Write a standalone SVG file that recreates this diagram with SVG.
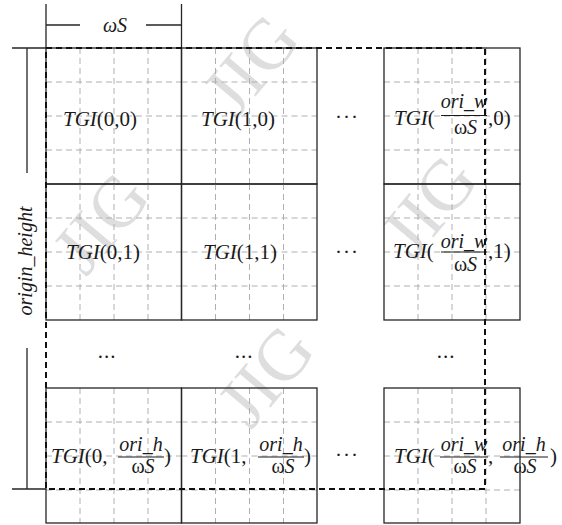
<svg xmlns="http://www.w3.org/2000/svg" width="562" height="525" viewBox="0 0 562 525">
<style>
.wm{font-family:"Liberation Serif",serif;font-size:72px;fill:#dedede;text-anchor:middle}
.cell{fill:none;stroke:#262626;stroke-width:1.3}
.grid{stroke:#b0b0b0;stroke-width:1;stroke-dasharray:6 4;fill:none}
.dim{stroke:#262626;stroke-width:1.3;fill:none}
.bound{fill:none;stroke:#111;stroke-width:2;stroke-dasharray:6 4}
.t{font-family:"Liberation Serif",serif;font-size:21px;fill:#1a1a1a}
.f{font-family:"Liberation Serif",serif;font-size:20px;fill:#1a1a1a;text-anchor:middle}
.i{font-style:italic}
.bar{stroke:#1a1a1a;stroke-width:1}
.dots{font-family:"Liberation Serif",serif;font-size:21px;fill:#1a1a1a;text-anchor:middle;letter-spacing:1px}
</style>
<rect width="562" height="525" fill="#fff"/>
<g id="watermarks">
<text class="wm" transform="translate(250,64) rotate(-50)" x="0" y="25">JIG</text>
<text class="wm" transform="translate(428,205) rotate(-50)" x="0" y="25">JIG</text>
<text class="wm" transform="translate(100,222) rotate(-50)" x="0" y="25">JIG</text>
<text class="wm" transform="translate(265,375) rotate(-50)" x="0" y="25">JIG</text>
</g>
<g id="connectors">
<path class="dim" d="M12,48H46M12,489H46M27,48V173M27,348V489M46,4V48M181.5,4V48M46,25H80M146,25H181.5"/>
</g>
<g id="cell-0-0">
<path class="grid" d="M80,48V184M114,48V184M148,48V184M46,82H181.5M46,116H181.5M46,150H181.5"/>
<rect class="cell" x="46" y="48" width="135.5" height="136"/>
<text class="t" x="63" y="126"><tspan class="i">TGI</tspan>(0,0)</text>
</g>
<g id="cell-1-0">
<path class="grid" d="M215.5,48V184M249.5,48V184M283.5,48V184M181.5,82H317M181.5,116H317M181.5,150H317"/>
<rect class="cell" x="181.5" y="48" width="135.5" height="136"/>
<text class="t" x="201" y="126"><tspan class="i">TGI</tspan>(1,0)</text>
</g>
<g id="cell-w-0">
<path class="grid" d="M418,48V184M452,48V184M486,48V184M384,82H520M384,116H520M384,150H520"/>
<rect class="cell" x="384" y="48" width="136" height="136"/>
<text class="t" x="394" y="125"><tspan class="i">TGI</tspan>(</text>
<text class="f i" x="464" y="108">ori_w</text>
<line class="bar" x1="441" y1="115.5" x2="487" y2="115.5"/>
<text class="f" x="465.5" y="134">ω<tspan class="i">S</tspan></text>
<text class="t" x="488" y="125">,0)</text>
</g>
<g id="cell-0-1">
<path class="grid" d="M80,184V320M114,184V320M148,184V320M46,218H181.5M46,252H181.5M46,286H181.5"/>
<rect class="cell" x="46" y="184" width="135.5" height="136"/>
<text class="t" x="66" y="259"><tspan class="i">TGI</tspan>(0,1)</text>
</g>
<g id="cell-1-1">
<path class="grid" d="M215.5,184V320M249.5,184V320M283.5,184V320M181.5,218H317M181.5,252H317M181.5,286H317"/>
<rect class="cell" x="181.5" y="184" width="135.5" height="136"/>
<text class="t" x="203" y="259"><tspan class="i">TGI</tspan>(1,1)</text>
</g>
<g id="cell-w-1">
<path class="grid" d="M418,184V320M452,184V320M486,184V320M384,218H520M384,252H520M384,286H520"/>
<rect class="cell" x="384" y="184" width="136" height="136"/>
<text class="t" x="393" y="258"><tspan class="i">TGI</tspan>(</text>
<text class="f i" x="464" y="248">ori_w</text>
<line class="bar" x1="441" y1="252" x2="487" y2="252"/>
<text class="f" x="465.5" y="270.5">ω<tspan class="i">S</tspan></text>
<text class="t" x="488" y="258">,1)</text>
</g>
<g id="cell-0-h">
<path class="grid" d="M80,388V523M114,388V523M148,388V523M46,422H181.5M46,456H181.5M46,490H181.5"/>
<rect class="cell" x="46" y="388" width="135.5" height="135"/>
<text class="t" x="51" y="463"><tspan class="i">TGI</tspan>(0,</text>
<text class="f i" x="141" y="451">ori_h</text>
<line class="bar" x1="118" y1="457" x2="164" y2="457"/>
<text class="f" x="143" y="473">ω<tspan class="i">S</tspan></text>
<text class="t" x="164" y="463">)</text>
</g>
<g id="cell-1-h">
<path class="grid" d="M215.5,388V523M249.5,388V523M283.5,388V523M181.5,422H317M181.5,456H317M181.5,490H317"/>
<rect class="cell" x="181.5" y="388" width="135.5" height="135"/>
<text class="t" x="190" y="463"><tspan class="i">TGI</tspan>(1,</text>
<text class="f i" x="281" y="451">ori_h</text>
<line class="bar" x1="258" y1="457" x2="304" y2="457"/>
<text class="f" x="283" y="473">ω<tspan class="i">S</tspan></text>
<text class="t" x="304" y="463">)</text>
</g>
<g id="cell-w-h">
<path class="grid" d="M418,388V523M452,388V523M486,388V523M384,422H520M384,456H520M384,490H520"/>
<rect class="cell" x="384" y="388" width="136" height="135"/>
<text class="t" x="394" y="463"><tspan class="i">TGI</tspan>(</text>
<text class="f i" x="464" y="451">ori_w</text>
<line class="bar" x1="440" y1="457" x2="488" y2="457"/>
<text class="f" x="465" y="473">ω<tspan class="i">S</tspan></text>
<text class="t" x="488" y="463">,</text>
<text class="f i" x="524" y="451">ori_h</text>
<line class="bar" x1="500" y1="457" x2="548" y2="457"/>
<text class="f" x="525" y="473">ω<tspan class="i">S</tspan></text>
<text class="t" x="550" y="463">)</text>
</g>
<g id="boundary">
<rect class="bound" x="46" y="48" width="439" height="441"/>
</g>
<g id="labels">
<text class="f" x="115" y="32"><tspan class="i">ωS</tspan></text>
<text class="f i" transform="translate(32,261) rotate(-90)" x="0" y="0">origin_height</text>
<text class="dots" x="347" y="124">···</text>
<text class="dots" x="347" y="259">···</text>
<text class="dots" x="347" y="462">···</text>
<text class="dots" x="107" y="358">...</text>
<text class="dots" x="244" y="358">...</text>
<text class="dots" x="446" y="358">...</text>
</g>
</svg>
